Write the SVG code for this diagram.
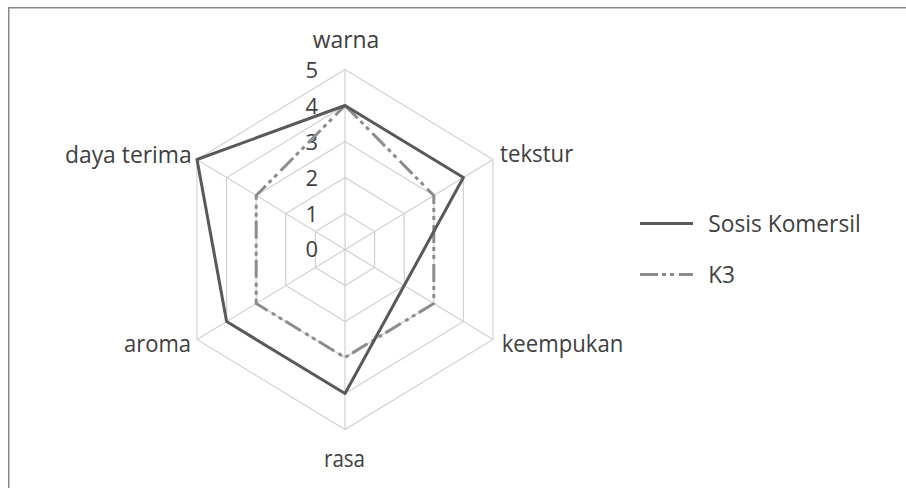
<svg xmlns="http://www.w3.org/2000/svg" width="906" height="488" viewBox="0 0 906 488">
<style>
  .lbl { font-family: "Open Sans", "Noto Sans", sans-serif; font-size: 23px; fill: #404040; }
  .tick { font-family: "Open Sans", "Noto Sans", sans-serif; font-size: 22px; fill: #404040; text-anchor: end; }
  .grid { fill: none; stroke: #d0d0d0; stroke-width: 1.2; }
  .s1 { fill: none; stroke: #595959; stroke-width: 3; stroke-linejoin: round; }
  .s2 { fill: none; stroke: #8c8c8c; stroke-width: 3; stroke-dasharray: 18 4 4 4 4 5; stroke-linejoin: round; }
</style>
<rect x="0" y="0" width="906" height="488" fill="#ffffff"/>
<path d="M8.75 488 V7.75 H906" fill="none" stroke="#8a8a8a" stroke-width="1.5"/>

<g id="grid">
  <polygon class="grid" points="345,213.5 374.6,231.5 374.6,267.5 345,285.5 315.4,267.5 315.4,231.5"/>
  <polygon class="grid" points="345,177.5 404.2,213.5 404.2,285.5 345,321.5 285.8,285.5 285.8,213.5"/>
  <polygon class="grid" points="345,141.5 433.8,195.5 433.8,303.5 345,357.5 256.2,303.5 256.2,195.5"/>
  <polygon class="grid" points="345,105.5 463.4,177.5 463.4,321.5 345,393.5 226.6,321.5 226.6,177.5"/>
  <polygon class="grid" points="345,69.5 493,159.5 493,339.5 345,429.5 197,339.5 197,159.5"/>
  <path class="grid" d="M345 249.5 L345 69.5 M345 249.5 L493 159.5 M345 249.5 L493 339.5 M345 249.5 L345 429.5 M345 249.5 L197 339.5 M345 249.5 L197 159.5"/>
</g>

<g id="ticks">
  <text class="tick" x="318" y="257.3">0</text>
  <text class="tick" x="318" y="221.5">1</text>
  <text class="tick" x="318" y="185.7">2</text>
  <text class="tick" x="318" y="149.9">3</text>
  <text class="tick" x="318" y="114.1">4</text>
  <text class="tick" x="318" y="78.3">5</text>
</g>

<g id="connectors">
  <polygon id="series-k3" class="s2" points="345,105.5 433.8,195.5 433.8,303.5 345,357.5 256.2,303.5 256.2,195.5"/>
  <polygon id="series-sosis" class="s1" points="345,105.5 463.4,177.5 404.2,285.5 345,393.5 226.6,321.5 197,159.5"/>
</g>

<g id="axis-warna"><text class="lbl" x="312.7" y="48.3" textLength="66.6" lengthAdjust="spacingAndGlyphs">warna</text></g>
<g id="axis-tekstur"><text class="lbl" x="500" y="161.7" textLength="73.3" lengthAdjust="spacingAndGlyphs">tekstur</text></g>
<g id="axis-keempukan"><text class="lbl" x="501.7" y="351.7" textLength="121.6" lengthAdjust="spacingAndGlyphs">keempukan</text></g>
<g id="axis-rasa"><text class="lbl" x="324" y="466.7" textLength="41" lengthAdjust="spacingAndGlyphs">rasa</text></g>
<g id="axis-aroma"><text class="lbl" x="124" y="351.7" textLength="67" lengthAdjust="spacingAndGlyphs">aroma</text></g>
<g id="axis-daya-terima"><text class="lbl" x="65" y="163.3" textLength="126.7" lengthAdjust="spacingAndGlyphs">daya terima</text></g>

<g id="legend">
  <g id="legend-sosis">
    <line x1="640" y1="223.5" x2="693" y2="223.5" stroke="#595959" stroke-width="3"/>
    <text class="lbl" x="708.3" y="231.7" textLength="152.4" lengthAdjust="spacingAndGlyphs">Sosis Komersil</text>
  </g>
  <g id="legend-k3">
    <line x1="640" y1="274.5" x2="693" y2="274.5" class="s2"/>
    <text class="lbl" x="708.3" y="283.3" textLength="26.7" lengthAdjust="spacingAndGlyphs">K3</text>
  </g>
</g>
</svg>
